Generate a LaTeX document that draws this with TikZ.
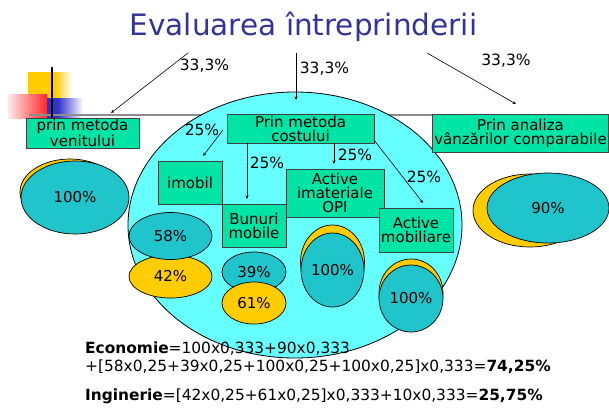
\documentclass[tikz,border=0pt]{standalone}
\usepackage{fontspec}
\setmainfont{DejaVu Sans}
\usetikzlibrary{positioning,shapes.geometric,arrows.meta}
\definecolor{titleblue}{RGB}{51,51,153}
\definecolor{boxgreen}{RGB}{0,228,166}
\definecolor{bigcyan}{RGB}{102,255,255}
\definecolor{tealfill}{RGB}{31,197,203}
\definecolor{goldfill}{RGB}{255,204,0}
\definecolor{decored}{RGB}{255,40,40}
\definecolor{decoblue}{RGB}{51,51,204}
\newcommand{\txtfont}{\fontsize{15}{14}\selectfont}
\newcommand{\formfont}{\fontsize{15.4}{15}\selectfont}

\begin{document}
\begin{tikzpicture}[
        x=1pt, y=-1pt,
        metbox/.style={draw=black!75, fill=boxgreen, line width=0.8pt,
            inner sep=0pt, align=center, font=\txtfont},
        pct/.style={ellipse, draw=black, line width=0.7pt, inner sep=0pt,
            font=\txtfont},
        tealpct/.style={pct, fill=tealfill},
        goldpct/.style={pct, fill=goldfill},
        lbl/.style={inner sep=0pt, font=\fontsize{15.5}{15}\selectfont},
        formula/.style={anchor=base west, inner sep=0pt, font=\formfont},
        arr/.style={-{Stealth[length=3.5pt,width=3pt]}, line width=0.6pt}]
        \useasboundingbox (0,0) rectangle (609,407);
        % DECORATION
        \fill[goldfill] (28,72) rectangle (55,98);
        \shade[left color=goldfill, right color=white] (55,72) rectangle (72,98);
        \shade[left color=decored!10, right color=decored] (8,94) rectangle (47,118);
        \fill[decoblue] (47,98) rectangle (58,118);
        \shade[left color=decoblue, right color=white] (58,98) rectangle (83,118);
        \draw[black!45, line width=1.5pt] (29,115) -- (609,115);
        \draw[black, line width=2.5pt] (52,67) -- (52,118);
        % big circle
        \node[ellipse, draw=black, fill=bigcyan, line width=0.8pt,
            minimum width=334pt, minimum height=266pt] (cerc) at (295,225) {};
        % TITLE
        \node[anchor=base, inner sep=0pt, text=titleblue,
            font=\fontsize{29.5}{30}\selectfont] (titlu) at (303.5,35) {Evaluarea întreprinderii};
        % NODES
        % method boxes
        \node[metbox, minimum width=113pt, minimum height=30pt] (venit) at (82.5,133) {prin metoda\\venitului};
        \node[metbox, minimum width=147pt, minimum height=29pt] (cost) at (300.5,128.5) {Prin metoda\\costului};
        \node[metbox, minimum width=176pt, minimum height=38pt] (vanzari) at (520.5,133) {Prin analiza\\vânzărilor comparabile};
        % asset boxes
        \node[metbox, minimum width=64pt, minimum height=43pt] (imobil) at (190,182.5) {imobil};
        \node[metbox, minimum width=64pt, minimum height=43pt] (bunuri) at (254,225.5) {Bunuri\\mobile};
        \node[metbox, minimum width=98pt, minimum height=48pt] (opi) at (335,193) {Active\\imateriale\\OPI};
        \node[metbox, minimum width=74pt, minimum height=44pt] (mobiliare) at (416,230) {Active\\mobiliare};
        % percentages
        \node[goldpct, minimum width=100pt, minimum height=66pt] (vgold) at (70,192) {};
        \node[tealpct, minimum width=108pt, minimum height=73pt] (v100) at (75,197.5) {100\%};
        \node[goldpct, minimum width=114pt, minimum height=73pt] (agold) at (530,210.5) {};
        \node[tealpct, minimum width=122pt, minimum height=70pt] (a90) at (548,208) {90\%};
        \node[goldpct, minimum width=83pt, minimum height=43pt] (i42) at (170.5,276.5) {42\%};
        \node[tealpct, minimum width=83pt, minimum height=47pt] (i58) at (170.5,236) {58\%};
        \node[tealpct, minimum width=64pt, minimum height=40pt] (b39) at (254,272) {39\%};
        \node[goldpct, minimum width=64pt, minimum height=42pt] (b61) at (254,303) {61\%};
        \node[goldpct, minimum width=64pt, minimum height=74pt] (ogold) at (332.5,262) {};
        \node[tealpct, minimum width=63pt, minimum height=74pt] (o100) at (332.5,270) {100\%};
        \node[goldpct, minimum width=64pt, minimum height=68pt] (mgold) at (411,293) {};
        \node[tealpct, minimum width=64pt, minimum height=67pt] (m100) at (411,298.5) {100\%};
        % labels
        \node[lbl] (p1) at (204.5,66) {33,3\%};
        \node[lbl] (p2) at (324.5,69) {33,3\%};
        \node[lbl] (p3) at (506,61) {33,3\%};
        \node[lbl] (q1) at (202,130) {25\%};
        \node[lbl] (q2) at (267,163) {25\%};
        \node[lbl] (q3) at (355,155) {25\%};
        \node[lbl] (q4) at (424,177) {25\%};
        % formulas
        \node[formula] (eco1) at (85,353) {\textbf{Economie}=100x0,333+90x0,333};
        \node[formula] (eco2) at (85,371) {+[58x0,25+39x0,25+100x0,25+100x0,25]x0,333=\textbf{74,25\%}};
        \node[formula] (ing) at (85,400) {\textbf{Inginerie}=[42x0,25+61x0,25]x0,333+10x0,333=\textbf{25,75\%}};

        % ARROWS
        \coordinate (s1) at (188,53);
        \coordinate (t1) at (111,113);
        \coordinate (s2) at (296,53);
        \coordinate (t2) at (296,100);
        \coordinate (s3) at (427,53);
        \coordinate (t3) at (516,104);
        \coordinate (c1) at (223,130);
        \coordinate (d1) at (203,156);
        \coordinate (c2) at (247,143);
        \coordinate (d2) at (247,199);
        \coordinate (c3) at (334,143);
        \coordinate (d3) at (334,164);
        \coordinate (c4) at (374,140);
        \coordinate (d4) at (423,203);
        \draw[arr] (s1)--(t1);
        \draw[arr] (s2)--(t2);
        \draw[arr] (s3)--(t3);
        \draw[arr] (c1)--(d1);
        \draw[arr] (c2)--(d2);
        \draw[arr] (c3)--(d3);
        \draw[arr] (c4)--(d4);
\end{tikzpicture}
\end{document}
